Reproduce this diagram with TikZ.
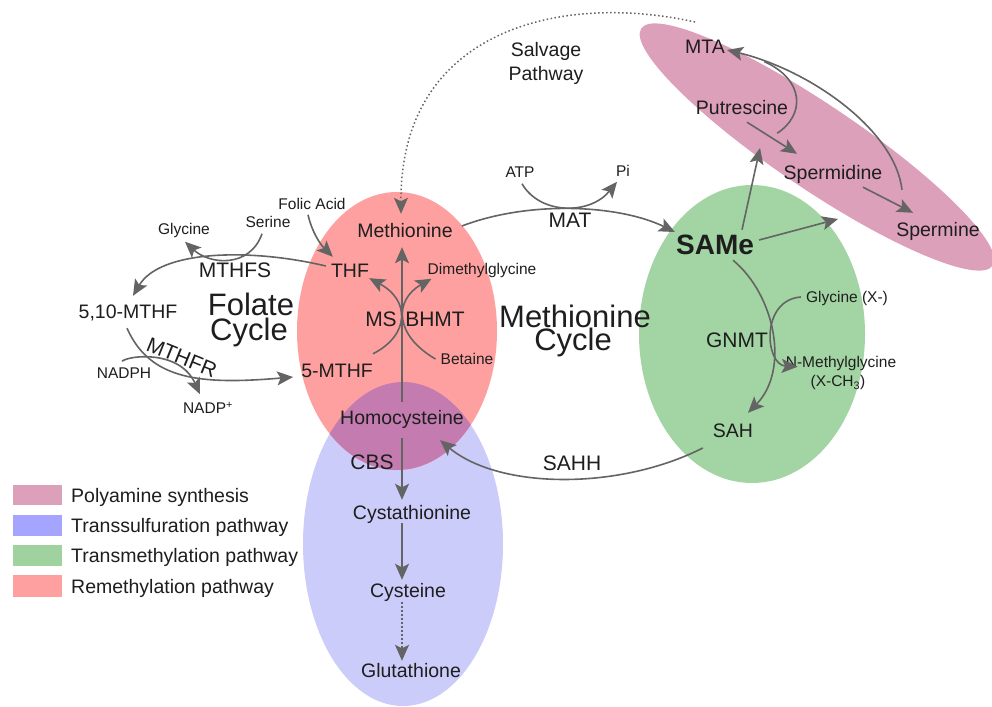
\documentclass[tikz,border=0pt]{standalone}
\usepackage{fontspec}
\setmainfont{Liberation Sans}
\usetikzlibrary{arrows.meta,calc}
\definecolor{redc}{RGB}{255,160,160}
\definecolor{bluec}{RGB}{204,204,250}
\definecolor{purplec}{RGB}{196,124,176}
\definecolor{greenc}{RGB}{163,212,163}
\definecolor{pinkc}{RGB}{221,160,186}
\definecolor{lgblue}{RGB}{165,165,255}
\definecolor{lggreen}{RGB}{160,210,160}
\definecolor{linec}{RGB}{100,100,100}
\definecolor{txtc}{RGB}{30,30,30}
\begin{document}
\begin{tikzpicture}[x=1pt,y=-1pt,
  every node/.style={inner sep=2pt, text=txtc},
  sm/.style={font=\fontsize{15.5}{18}\selectfont, text height=11.1pt, text depth=0pt},
  met/.style={font=\fontsize{19.5}{23}\selectfont, text height=14pt, text depth=0pt},
  enz/.style={font=\fontsize{21}{24}\selectfont, text height=15pt, text depth=0pt},
  big/.style={font=\fontsize{31}{34}\selectfont, text height=22.2pt, text depth=0pt},
  samest/.style={font=\fontsize{28}{30}\selectfont\bfseries, text height=20pt, text depth=0pt},
  arr/.style={draw=linec, line width=1.6pt, -{Stealth[length=16pt,width=14pt,inset=3.5pt]}},
  dotarr/.style={arr, line width=1.5pt, dash pattern=on 1.5pt off 2.5pt},
  ]
\useasboundingbox (0,0) rectangle (992,706);
\fill[white] (0,0) rectangle (992,706);
% regions
\fill[bluec] (403,544) ellipse [x radius=100, y radius=162];
\fill[redc] (397,331) ellipse [x radius=100, y radius=139];
\begin{scope}
  \clip (397,331) ellipse [x radius=100, y radius=139];
  \fill[purplec] (403,544) ellipse [x radius=100, y radius=162];
\end{scope}
\fill[greenc] (752,334) ellipse [x radius=113, y radius=149];
\fill[pinkc, rotate around={-34:(817,147)}] (817,147) ellipse [x radius=212, y radius=42];
% nodes
\node[met] (meth) at (405,230) {Methionine};
\node[met] (thf) at (350,270) {THF};
\node[sm] (dmg) at (482,269) {Dimethylglycine};
\node[enz] (ms) at (381,319) {MS};
\node[enz] (bhmt) at (435,319) {BHMT};
\node[sm] (bet) at (467,359) {Betaine};
\node[met] (mthf5) at (337,370) {5-MTHF};
\node[met] (homo) at (402,417) {Homocysteine};
\node[enz] (cbs) at (372,462) {CBS};
\node[enz] (sahh) at (572,463) {SAHH};
\node[met] (cysta) at (412,512) {Cystathionine};
\node[met] (cyste) at (408,590) {Cysteine};
\node[met] (glut) at (411,670) {Glutathione};
\node[met] (sah) at (733,430) {SAH};
\node[enz] (gnmt) at (737,340) {GNMT};
\node[sm] (glyx) at (847,297) {Glycine (X-)};
\node[sm] (nmg) at (841,362) {N-Methylglycine};
\node[sm] (xch) at (838,381) {(X-CH\textsubscript{3})};
\node[samest] (same) at (715,244) {SAMe};
\node[met] (mta) at (705,47) {MTA};
\node[met] (put) at (742,107) {Putrescine};
\node[met] (spd) at (833,172) {Spermidine};
\node[met] (spm) at (938,229) {Spermine};
\node[sm] (pi) at (623,171) {Pi};
\node[sm] (atp) at (520,172) {ATP};
\node[enz] (mat) at (570,220) {MAT};
\node[met] (salv1) at (546,50) {Salvage};
\node[met] (salv2) at (546,74) {Pathway};
\node[big] (mc1) at (575,316) {Methionine};
\node[big] (mc2) at (573,339) {Cycle};
\node[big] (fc1) at (251,304) {Folate};
\node[big] (fc2) at (249,329) {Cycle};
\node[sm] (folic) at (312,204) {Folic Acid};
\node[sm] (ser) at (268,222) {Serine};
\node[sm] (gly) at (184,229) {Glycine};
\node[enz] (mthfs) at (235,270) {MTHFS};
\node[met] (mthf510) at (128,311) {5,10-MTHF};
\node[enz, rotate=-22, inner sep=0pt] (mthfr) at (182,357) {MTHFR};
\node[sm] (nadph) at (124,373) {NADPH};
\node[sm] (nadp) at (208,408) {NADP\textsuperscript{+}};
% free ends
\coordinate (salv0) at (695,22);
\coordinate (polyup) at (760,148);
\coordinate (polyright) at (838,219);
% connectors
\draw[dotarr] (salv0) .. controls (560,-8) and (400,30) .. ($(meth.north)+(-4,-7)$);
\draw[arr] ($(meth.east)+(7,-4)$) .. controls (530,200) and (620,205) .. ($(same.west)+(1,-12)$);
\draw[arr] ($(atp.south)+(2,4)$) .. controls (540,215) and (590,215) .. ($(pi.south)+(-6,3)$);
\draw[arr] ($(same.north)+(27,-2)$) -- (polyup);
\draw[arr] ($(same.east)+(3,-4)$) -- (polyright);
\draw[arr] ($(put.south)+(5,6)$) -- ($(spd.north)+(-36,-9)$);
\draw[arr] ($(spd.south)+(30,6)$) -- ($(spm.north)+(-25,-7)$);
\draw[arr] ($(spm.north)+(-36,-30)$) .. controls (895,130) and (810,70) .. coordinate[pos=0.85] (mrg) ($(mta.east)+(0,3)$);
\draw[linec, line width=1.6pt] ($(put.south east)+(-13,17)$) .. controls (805,115) and (805,80) .. (mrg);
\draw[arr] ($(same.south)+(18,4)$) .. controls (775,295) and (790,370) .. ($(sah.north)+(15,-8)$);
\draw[arr] ($(glyx.west)+(-3,0)$) .. controls (760,300) and (765,365) .. ($(nmg.south west)+(14,-3)$);
\draw[arr] ($(sah.west)+(-8,18)$) .. controls (620,490) and (500,490) .. ($(homo.south east)+(-26,14)$);
\draw[arr] ($(homo.north)+(0,-6)$) -- ($(meth.south)+(-3,8)$);
\draw[arr] ($(homo.south)+(0,12)$) -- ($(cysta.north)+(-10,-3)$);
\draw[arr] ($(cysta.south)+(-10,2)$) -- ($(cyste.north)+(-6,-1)$);
\draw[dotarr] ($(cyste.south)+(-6,3)$) -- ($(glut.north)+(-9,0)$);
\draw[arr] ($(mthf5.north east)+(-2,-7)$) .. controls (410,335) and (410,300) .. ($(thf.south east)+(-2,-1)$);
\draw[arr] ($(bet.west)+(-3,0)$) .. controls (394,335) and (394,300) .. ($(dmg.south west)+(6,2)$);
\draw[arr] ($(folic.south)+(-4,3)$) .. controls (312,232) and (320,244) .. ($(thf.north west)+(4,-4)$);
\draw[arr] ($(thf.west)+(-3,-4)$) .. controls (250,248) and (160,250) .. ($(mthf510.north)+(5,-6)$);
\draw[arr] ($(ser.south)+(-6,4)$) .. controls (250,268) and (210,265) .. ($(gly.south)+(1,5)$);
\draw[arr] ($(mthf510.south)+(-1,8)$) .. controls (150,380) and (200,385) .. ($(mthf5.west)+(-6,7)$);
\draw[arr] ($(nadph.north)+(-2,-4)$) .. controls (130,355) and (180,350) .. ($(nadp.north)+(-8,-6)$);
% legend
\fill[pinkc] (13,485) rectangle (62,505);
\fill[lgblue] (13,515) rectangle (62,536);
\fill[lggreen] (13,545) rectangle (62,566);
\fill[redc] (13,575) rectangle (62,597);
\node[met, anchor=west] (lg1) at (69,495) {Polyamine synthesis};
\node[met, anchor=west] (lg2) at (69,525.5) {Transsulfuration pathway};
\node[met, anchor=west] (lg3) at (69,555.5) {Transmethylation pathway};
\node[met, anchor=west] (lg4) at (69,586) {Remethylation pathway};
\end{tikzpicture}
\end{document}
